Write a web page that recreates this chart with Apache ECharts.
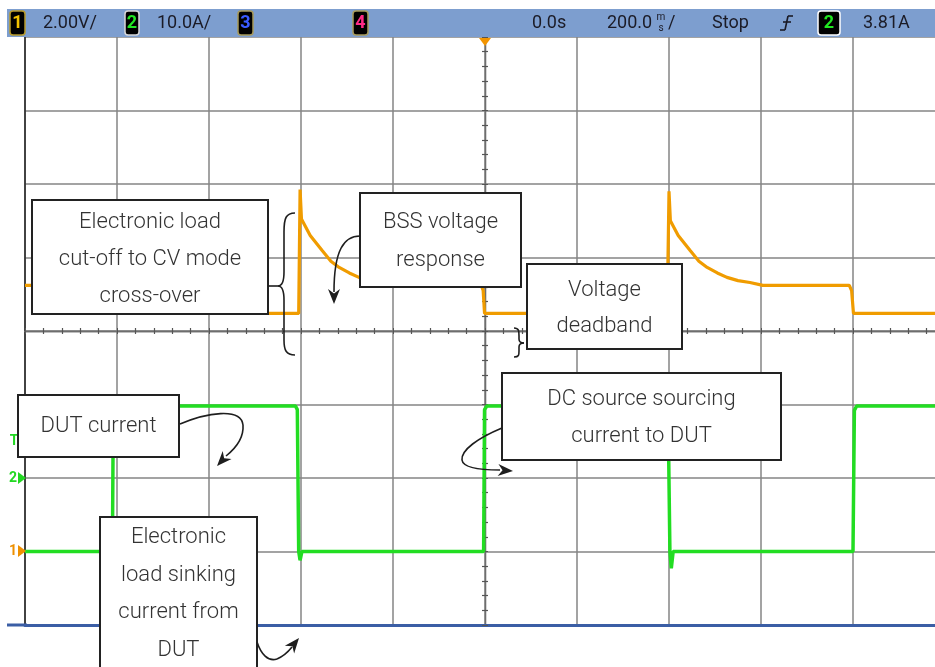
<!DOCTYPE html>
<html>
<head>
<meta charset="utf-8">
<title>BSS scope capture</title>
<script src="https://cdn.jsdelivr.net/npm/echarts@6/dist/echarts.min.js"></script>
<style>
html, body { margin: 0; padding: 0; background: #fff; }
#chart { width: 935px; height: 667px; }
</style>
</head>
<body>
<div id="chart"></div>
<script>
// time in ms (200 ms/div, trigger at 0), ch1 in V (2 V/div), ch2 in A (10 A/div)
var ch1Time = [-1000, -811, -807, -405, -402, -399, -380, -354, -335, -317, -295, -274, -250, -224, -196, -8, -4, -1,
               396, 400, 403, 420, 446, 465, 483, 505, 526, 550, 576, 604, 792, 797, 801, 1000];
var ch1Volt = [7.24, 7.24, 6.48, 6.48, 9.85, 9.05, 8.6, 8.19, 7.9, 7.73, 7.58, 7.46, 7.37, 7.32, 7.24, 7.24, 7.1, 6.48,
               6.48, 9.8, 9.0, 8.6, 8.19, 7.9, 7.73, 7.58, 7.46, 7.37, 7.32, 7.24, 7.24, 7.1, 6.48, 6.48];

var ch2Time = [-1000, -810, -808, -412, -408, -405, -402, -398, -3, -1, 4, 394, 398, 402, 405, 409, 800, 803, 808, 1000];
var ch2Amp  = [-10, -10, 9.8, 9.8, 9.3, -10, -11.2, -10, -10, 9.3, 9.8, 9.8, 9.3, -10, -12.3, -10, -10, 9.2, 9.8, 9.8];

var statusTexts = [
  { text: '2.00V/', x: 43 },
  { text: '10.0A/', x: 157 },
  { text: '0.0s', x: 532 },
  { text: '200.0', x: 607 },
  { text: '/', x: 668 },
  { text: 'Stop', x: 712 },
  { text: '3.81A', x: 863 }
];
var badges = [
  { n: '1', x: 10, w: 15, color: '#f2c200', edge: '#b89a2a' },
  { n: '2', x: 125, w: 14, color: '#22e622', edge: '#d8d8d8' },
  { n: '3', x: 238, w: 15, color: '#3a5cff', edge: '#a89a5a' },
  { n: '4', x: 353, w: 15, color: '#ff2a86', edge: '#a89a5a' },
  { n: '2', x: 818, w: 22, color: '#22e622', edge: '#ffffff' }
];

var ch1Data = ch1Time.map(function (t, i) { return [t, ch1Volt[i]]; });
var ch2Data = ch2Time.map(function (t, i) { return [t, ch2Amp[i]]; });

var INK = '#1e1e1e';
var NOTE_FONT = '300 22px Roboto, "Noto Sans", sans-serif';

function note(x, y, w, h, text, cy, lh) {
  return [
    { type: 'rect', z: 100, shape: { x: x, y: y, width: w, height: h },
      style: { fill: '#fff', stroke: '#222', lineWidth: 2 } },
    { type: 'text', z: 101, x: x + w / 2, y: cy,
      style: { text: text, font: NOTE_FONT, fill: '#333', textAlign: 'center', verticalAlign: 'middle', lineHeight: lh } }
  ];
}
// turn a small M/L/C path string into line + bezierCurve graphic elements
function curve(d) {
  var toks = d.match(/[MLC]|-?\d+(\.\d+)?/g);
  var els = [], cx = 0, cy = 0, i = 0, cmd;
  var st = { stroke: INK, lineWidth: 1.6, fill: null };
  while (i < toks.length) {
    if (/[MLC]/.test(toks[i])) cmd = toks[i++];
    var n = toks.slice(i).map(Number);
    if (cmd === 'M') { cx = n[0]; cy = n[1]; i += 2; }
    else if (cmd === 'L') {
      els.push({ type: 'line', z: 105, shape: { x1: cx, y1: cy, x2: n[0], y2: n[1] }, style: st });
      cx = n[0]; cy = n[1]; i += 2;
    } else {
      els.push({ type: 'bezierCurve', z: 105,
        shape: { x1: cx, y1: cy, cpx1: n[0], cpy1: n[1], cpx2: n[2], cpy2: n[3], x2: n[4], y2: n[5] }, style: st });
      cx = n[4]; cy = n[5]; i += 6;
    }
  }
  return els;
}
function arrowHead(tx, ty, fx, fy) {
  var dx = tx - fx, dy = ty - fy, d = Math.sqrt(dx * dx + dy * dy);
  dx /= d; dy /= d;
  var len = 15, half = 6;
  var bx = tx - dx * len, by = ty - dy * len;
  var nx = tx - dx * len * 0.7, ny = ty - dy * len * 0.7;
  return { type: 'polygon', z: 106,
    shape: { points: [[tx, ty], [bx - dy * half, by + dx * half], [nx, ny], [bx + dy * half, by - dx * half]] },
    style: { fill: INK } };
}

var graphics = [];
// status bar
graphics.push({ type: 'rect', z: 90, shape: { x: 7, y: 9, width: 928, height: 28 }, style: { fill: '#7d9ecf' } });
badges.forEach(function (b) {
  graphics.push({ type: 'rect', z: 91, shape: { x: b.x, y: 11, width: b.w, height: 24, r: 3 },
    style: { fill: '#000', stroke: b.edge, lineWidth: 1.5 } });
  graphics.push({ type: 'text', z: 92, x: b.x + b.w / 2, y: 23,
    style: { text: b.n, font: 'bold 18px Roboto, sans-serif', fill: b.color, textAlign: 'center', verticalAlign: 'middle' } });
});
statusTexts.forEach(function (s) {
  graphics.push({ type: 'text', z: 92, x: s.x, y: 23,
    style: { text: s.text, font: '18px Roboto, sans-serif', fill: '#1b1b26', textAlign: 'left', verticalAlign: 'middle' } });
});
graphics.push({ type: 'text', z: 92, x: 661, y: 17, style: { text: 'm', font: '10px Roboto, sans-serif', fill: '#1b1b26', textAlign: 'center', verticalAlign: 'middle' } });
graphics.push({ type: 'text', z: 92, x: 661, y: 28, style: { text: 's', font: '10px Roboto, sans-serif', fill: '#1b1b26', textAlign: 'center', verticalAlign: 'middle' } });
graphics = graphics.concat(curve('M780,30 L785,30 L788,16 L793,16 M783,22 L791,22').map(function (e) {
  e.z = 92; e.style = { stroke: '#1b1b26', lineWidth: 1.6 }; return e;
}));
// trigger position marker
graphics.push({ type: 'polygon', z: 93, shape: { points: [[479, 38], [491, 38], [485, 46]] }, style: { fill: '#f29400' } });
// channel ground / trigger markers
graphics.push({ type: 'text', z: 93, x: 14, y: 441, style: { text: 'T', font: 'bold 14px Roboto, sans-serif', fill: '#22d822', textAlign: 'center', verticalAlign: 'middle' } });
graphics.push({ type: 'text', z: 93, x: 13, y: 478, style: { text: '2', font: 'bold 14px Roboto, sans-serif', fill: '#22d822', textAlign: 'center', verticalAlign: 'middle' } });
graphics.push({ type: 'polygon', z: 93, shape: { points: [[18, 472], [26, 478], [18, 484]] }, style: { fill: '#22d822' } });
graphics.push({ type: 'text', z: 93, x: 13, y: 551, style: { text: '1', font: 'bold 14px Roboto, sans-serif', fill: '#ee9000', textAlign: 'center', verticalAlign: 'middle' } });
graphics.push({ type: 'polygon', z: 93, shape: { points: [[18, 545], [26, 551], [18, 557]] }, style: { fill: '#ee9000' } });
// frame segment left of the graticule
graphics.push({ type: 'rect', z: 50, shape: { x: 7, y: 623.5, width: 20, height: 3 }, style: { fill: '#3b5ea5' } });

// annotations
graphics = graphics.concat(
  note(32, 200, 236, 114, 'Electronic load\ncut-off to CV mode\ncross-over', 259, 37),
  note(360, 193, 161, 94, 'BSS voltage\nresponse', 241, 38),
  note(527, 264, 155, 85, 'Voltage\ndeadband', 308, 36),
  note(18, 395, 161, 62, 'DUT current', 426, 36),
  note(502, 373, 279, 87, 'DC source sourcing\ncurrent to DUT', 418, 37),
  note(100, 517, 157, 180, 'Electronic\nload sinking\ncurrent from\nDUT', 594, 37.5),
  curve('M268,286 L278,286 M295,213 C286,213 284,218 284,232 L284,272 C284,282 282,286 278,286 C282,286 284,290 284,300 L284,340 C284,350 286,355 295,355'),
  curve('M514,328 C519,328 519,331 519,336 L519,339 C519,342 521,343 524,343 C521,343 519,344 519,347 L519,351 C519,355 519,357 514,357'),
  curve('M360,236 C344,236 334,250 334,292'),
  curve('M180,424 C206,413 241,407 243,425 C244,438 236,448 226,456'),
  curve('M502,428 C478,438 461,450 462,460 C463,468 482,470 500,470'),
  curve('M257,642 C261,654 268,662 277,659 C284,656 288,652 292,647')
);
graphics.push(arrowHead(334, 304, 334, 290));
graphics.push(arrowHead(217, 466, 228, 454));
graphics.push(arrowHead(513, 471, 498, 470));
graphics.push(arrowHead(299, 638, 290, 649));

var centerAxisX = function (inside) {
  return {
    type: 'value', min: -1000, max: 1000, interval: 200,
    axisLine: { show: true, onZero: true, onZeroAxisIndex: 2, lineStyle: { color: '#6e6e6e', width: 1.3 } },
    axisTick: { show: true, inside: inside, length: 3, lineStyle: { color: '#555' } },
    minorTick: { show: true, splitNumber: 5, length: 3, lineStyle: { color: '#555', width: 1.2 } },
    axisLabel: { show: false }, splitLine: { show: false }
  };
};
var centerAxisY = function (inside) {
  return {
    type: 'value', min: -4, max: 4, interval: 1,
    axisLine: { show: true, onZero: true, onZeroAxisIndex: 0, lineStyle: { color: '#6e6e6e', width: 1.3 } },
    axisTick: { show: true, inside: inside, length: 3, lineStyle: { color: '#555' } },
    minorTick: { show: true, splitNumber: 5, length: 3, lineStyle: { color: '#555', width: 1.2 } },
    axisLabel: { show: false }, splitLine: { show: false }
  };
};

var chart = echarts.init(document.getElementById('chart'));
chart.setOption({
  animation: false,
  backgroundColor: '#fff',
  // graticule runs past the right edge of the photo (10 div x 92 px)
  grid: { left: 25, top: 37, width: 920, height: 588, outerBoundsMode: 'none', containLabel: false },
  xAxis: [
    {
      type: 'value', min: -1000, max: 1000, interval: 200,
      axisLine: { onZero: false, lineStyle: { color: '#3b5ea5', width: 3 } },
      axisTick: { show: false }, axisLabel: { show: false },
      splitLine: { show: true, lineStyle: { color: '#858585', width: 1.5 } }
    },
    centerAxisX(false),
    centerAxisX(true)
  ],
  yAxis: [
    {
      type: 'value', min: -2, max: 14, interval: 2, position: 'left',
      axisLine: { show: true, onZero: false, lineStyle: { color: '#222', width: 1.5 } },
      axisTick: { show: false }, axisLabel: { show: false },
      splitLine: { show: true, lineStyle: { color: '#858585', width: 1.5 } }
    },
    {
      type: 'value', min: -20, max: 60, interval: 10,
      axisLine: { show: false, onZero: false }, axisTick: { show: false }, axisLabel: { show: false },
      splitLine: { show: false }
    },
    centerAxisY(false),
    centerAxisY(true)
  ],
  series: [
    {
      name: 'Ch1 voltage', type: 'line', xAxisIndex: 0, yAxisIndex: 0, data: ch1Data,
      showSymbol: false, z: 5, lineStyle: { color: '#f09c00', width: 3.2 }
    },
    {
      name: 'Ch2 current', type: 'line', xAxisIndex: 0, yAxisIndex: 1, data: ch2Data,
      showSymbol: false, z: 5, lineStyle: { color: '#22dd22', width: 3.5 }
    }
  ],
  graphic: graphics
});
</script>
</body>
</html>
